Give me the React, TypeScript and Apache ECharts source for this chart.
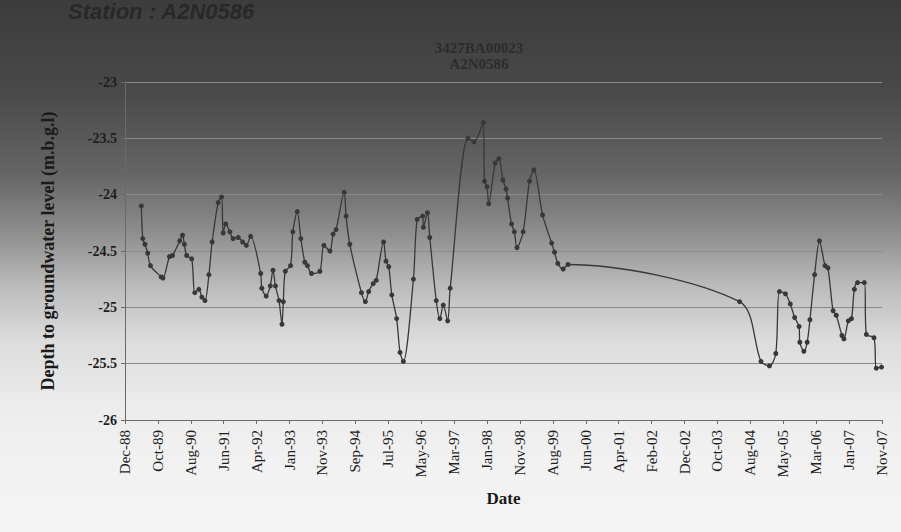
import React, { useEffect, useRef } from "react";
import * as echarts from "echarts";

const stationTitle = "Station : A2N0586";
const chartTitle = "3427BA00023\nA2N0586";
const xAxisName = "Date";
const yAxisName = "Depth to groundwater level (m.b.g.l)";

// axis start date, tick step in days and number of steps
const axisStart = "1988-12-23";
const tickStepDays = 300;
const tickCount = 23;
const monthNames = ["Jan", "Feb", "Mar", "Apr", "May", "Jun", "Jul", "Aug", "Sep", "Oct", "Nov", "Dec"];

const yMin = -26;
const yMax = -23;
const yStep = 0.5;

const dates = [
  "1989-05-21", "1989-06-03", "1989-06-23", "1989-07-18", "1989-08-12", "1989-11-18", "1989-12-04",
  "1990-02-01", "1990-03-01", "1990-05-06", "1990-05-31", "1990-06-17", "1990-07-08", "1990-08-23",
  "1990-09-20", "1990-10-27", "1990-11-24", "1990-12-22", "1991-01-27", "1991-02-25", "1991-04-21",
  "1991-05-22", "1991-06-06", "1991-06-29", "1991-08-06", "1991-09-04", "1991-10-21", "1991-11-30",
  "1992-01-03", "1992-02-11", "1992-05-13", "1992-05-23", "1992-07-02", "1992-08-08", "1992-09-02",
  "1992-09-24", "1992-10-27", "1992-11-23", "1992-12-05", "1992-12-23", "1993-02-09", "1993-03-02",
  "1993-04-11", "1993-05-14", "1993-06-19", "1993-07-13", "1993-08-19", "1993-11-03", "1993-12-10",
  "1994-02-03", "1994-03-04", "1994-03-31", "1994-06-13", "1994-06-30", "1994-08-03", "1994-11-17",
  "1994-12-23", "1995-01-22", "1995-03-04", "1995-04-01", "1995-06-07", "1995-06-29", "1995-07-24",
  "1995-08-21", "1995-10-04", "1995-11-04", "1995-12-04", "1996-03-05", "1996-04-08", "1996-05-29",
  "1996-06-04", "1996-07-11", "1996-08-01", "1996-09-29", "1996-11-01", "1996-12-02", "1997-01-11",
  "1997-02-03", "1997-07-15", "1997-09-08", "1997-12-01", "1997-12-13", "1998-01-05", "1998-01-20",
  "1998-03-20", "1998-04-23", "1998-05-30", "1998-06-27", "1998-07-11", "1998-08-16", "1998-09-11",
  "1998-10-05", "1998-11-30", "1999-01-27", "1999-03-08", "1999-05-26", "1999-08-17", "1999-09-12",
  "1999-10-12", "1999-11-30", "2000-01-13", "2004-04-25", "2004-11-06", "2005-01-22", "2005-03-21",
  "2005-04-23", "2005-06-17", "2005-07-31", "2005-09-09", "2005-10-19", "2005-10-26", "2005-12-02",
  "2006-01-01", "2006-01-26", "2006-03-10", "2006-04-23", "2006-06-13", "2006-07-09", "2006-08-25",
  "2006-09-23", "2006-11-14", "2006-12-02", "2007-01-11", "2007-02-09", "2007-03-07", "2007-04-05",
  "2007-06-06", "2007-06-24", "2007-09-02", "2007-09-23", "2007-11-10",
];

const depths = [
  -24.10, -24.39, -24.44, -24.52, -24.63, -24.73, -24.74,
  -24.55, -24.54, -24.41, -24.36, -24.44, -24.54, -24.57,
  -24.87, -24.84, -24.91, -24.94, -24.71, -24.42, -24.07,
  -24.02, -24.34, -24.26, -24.33, -24.39, -24.38, -24.42,
  -24.45, -24.37, -24.70, -24.83, -24.90, -24.81, -24.67,
  -24.81, -24.94, -25.15, -24.95, -24.68, -24.63, -24.33,
  -24.15, -24.39, -24.60, -24.63, -24.70, -24.68, -24.45,
  -24.50, -24.35, -24.31, -23.98, -24.19, -24.44, -24.87,
  -24.95, -24.86, -24.79, -24.76, -24.42, -24.59, -24.64,
  -24.89, -25.10, -25.40, -25.48, -24.75, -24.22, -24.19,
  -24.29, -24.16, -24.38, -24.94, -25.10, -24.98, -25.12,
  -24.83, -23.50, -23.53, -23.36, -23.88, -23.93, -24.08,
  -23.72, -23.68, -23.87, -23.95, -24.03, -24.26, -24.33,
  -24.47, -24.33, -23.88, -23.78, -24.18, -24.43, -24.51,
  -24.61, -24.66, -24.62, -24.95, -25.48, -25.52, -25.41,
  -24.86, -24.88, -24.97, -25.09, -25.17, -25.31, -25.39,
  -25.31, -25.11, -24.71, -24.41, -24.63, -24.65, -25.03,
  -25.07, -25.25, -25.28, -25.12, -25.10, -24.84, -24.78,
  -24.78, -25.24, -25.27, -25.54, -25.53,
];

const DAY = 86400000;

export default function App() {
  const ref = useRef<HTMLDivElement>(null);
  useEffect(() => {
    if (!ref.current) return;
    const chart = echarts.init(ref.current, null, { renderer: "svg" });
    const base = Date.parse(axisStart + "T00:00:00Z");
    const seriesData = dates.map((d, i) => [
      (Date.parse(d + "T00:00:00Z") - base) / DAY,
      depths[i],
    ]);
    const serif = "'Liberation Serif', 'DejaVu Serif', serif";
    chart.setOption({
      animation: false,
      backgroundColor: "transparent",
      grid: { left: 125, right: 19, top: 82, bottom: 112 },
      graphic: [
        {
          type: "text",
          x: 68,
          y: 0,
          style: {
            text: stationTitle,
            font: "italic bold 22px 'Liberation Sans', Arial, sans-serif",
            fill: "#282828",
          },
        },
        {
          type: "text",
          x: 479,
          y: 40,
          style: {
            text: chartTitle,
            font: "bold 15px " + serif,
            fill: "#2c2c2c",
            align: "center",
            lineHeight: 16,
          },
        },
      ],
      xAxis: {
        type: "value",
        min: 0,
        max: tickStepDays * tickCount,
        interval: tickStepDays,
        name: xAxisName,
        nameLocation: "middle",
        nameGap: 70,
        nameTextStyle: { fontFamily: serif, fontWeight: "bold", fontSize: 17, color: "#1a1a1a" },
        axisLine: { show: true, lineStyle: { color: "#6a6a6a", width: 1 } },
        axisTick: { show: true, length: 4, lineStyle: { color: "#6a6a6a" } },
        splitLine: { show: false },
        axisLabel: {
          rotate: 90,
          fontFamily: serif,
          fontSize: 15,
          color: "#1e1e1e",
          margin: 10,
          formatter: (v: number) => {
            const d = new Date(base + v * DAY);
            return monthNames[d.getUTCMonth()] + "-" + String(d.getUTCFullYear() % 100).padStart(2, "0");
          },
        },
      },
      yAxis: {
        type: "value",
        min: yMin,
        max: yMax,
        interval: yStep,
        name: yAxisName,
        nameLocation: "middle",
        nameGap: 68,
        nameTextStyle: { fontFamily: serif, fontWeight: "bold", fontSize: 18, color: "#1a1a1a" },
        axisLine: { show: true, lineStyle: { color: "#6a6a6a", width: 1 } },
        axisTick: { show: true, length: 4, lineStyle: { color: "#6a6a6a" } },
        splitLine: { show: true, lineStyle: { color: "#8a8a8a", width: 1 } },
        axisLabel: { fontFamily: serif, fontWeight: "bold", fontSize: 14, color: "#1e1e1e", margin: 8 },
      },
      series: [
        {
          type: "line",
          data: seriesData,
          smooth: 0.3,
          symbol: "circle",
          symbolSize: 5,
          lineStyle: { color: "#383838", width: 1.3 },
          itemStyle: { color: "#383838" },
        },
      ],
    });
    return () => chart.dispose();
  }, []);

  return (
    <div
      style={{
        position: "fixed",
        left: 0,
        top: 0,
        width: 901,
        height: 532,
        background:
          "linear-gradient(to bottom, #3c3c3c 0%, #4a4a4a 18%, #666666 33%, #8f8f8f 44%, #bcbcbc 54%, #dcdcdc 64%, #ececec 76%, #f2f2f2 88%, #f3f3f3 100%)",
      }}
    >
      <div ref={ref} style={{ width: 901, height: 532 }} />
    </div>
  );
}
